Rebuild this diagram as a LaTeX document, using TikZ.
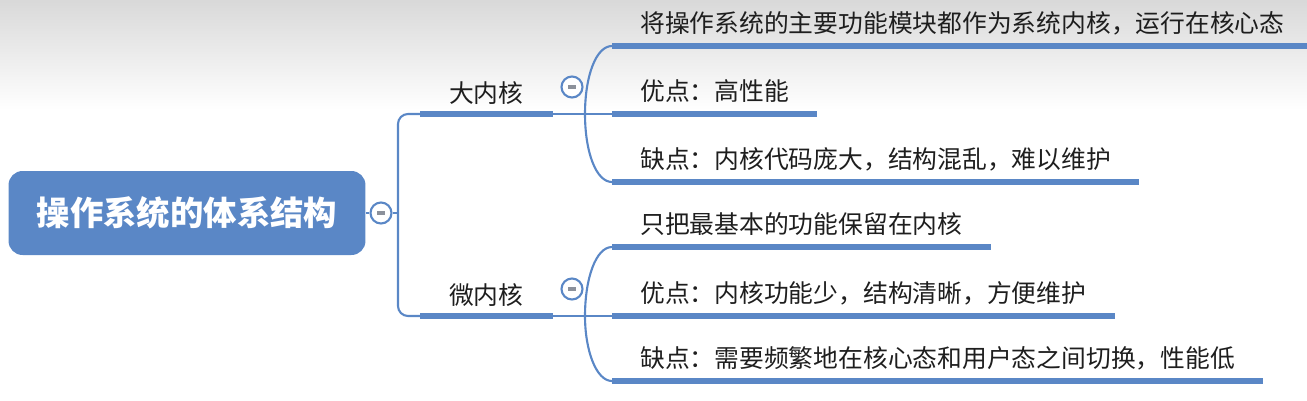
\documentclass[tikz,border=0pt]{standalone}
\usepackage{fontspec}
\setmainfont{Noto Sans CJK SC}
\usepackage{tikz}
\definecolor{MapBlue}{HTML}{5A87C6}
\definecolor{FoldGray}{HTML}{8C919B}
\definecolor{InkGray}{HTML}{1E1E1E}
\tikzset{
  rootbox/.style={rounded corners=0.28cm,fill=MapBlue,text=white,
    font=\fontsize{19}{21}\selectfont\bfseries,minimum width=7.14cm,minimum height=1.68cm},
  topicbox/.style={anchor=south west,minimum width=2.64cm,inner xsep=0pt,inner ysep=0.13cm,
    text height=0.4cm,text depth=0.1cm,text=InkGray,font=\fontsize{14.1}{16}\selectfont},
  leafbox/.style={anchor=south west,inner xsep=0.56cm,inner ysep=0.17cm,
    text height=0.4cm,text depth=0.1cm,text=InkGray,font=\fontsize{14.1}{16}\selectfont},
  fold/.style={circle,draw=MapBlue,line width=1.2pt,fill=white,minimum size=0.42cm,inner sep=0pt,
    path picture={\draw[FoldGray,line width=1.8pt]
      ([xshift=-0.08cm]path picture bounding box.center) -- ([xshift=0.08cm]path picture bounding box.center);}},
  link/.style={MapBlue,line width=1.2pt},
  uline/.style={MapBlue,line width=3.2pt}
}
\begin{document}
\begin{tikzpicture}[x=0.02cm,y=-0.02cm]
  \useasboundingbox (0,0) rectangle (1307,400);
  \fill[top color=gray!30,bottom color=white] (0,0) rectangle (1307,110);
  % root
  \node[rootbox] (root) at (187,213) {操作系统的体系结构};
  \node[fold] (rootfold) at (381,213) {};
  \coordinate (trunk) at (398,213);
  % two kernel kinds
  \node[topicbox] (big) at (420,114) {大内核};
  \node[topicbox] (micro) at (420,316) {微内核};
  \node[fold] (bigfold) at (572,87) {};
  \node[fold] (microfold) at (572,289) {};
  % details
  \node[leafbox] (big1) at (612,46) {将操作系统的主要功能模块都作为系统内核，运行在核心态};
  \node[leafbox] (big2) at (612,114) {优点：高性能};
  \node[leafbox] (big3) at (612,182) {缺点：内核代码庞大，结构混乱，难以维护};
  \node[leafbox] (micro1) at (612,247) {只把最基本的功能保留在内核};
  \node[leafbox] (micro2) at (612,316) {优点：内核功能少，结构清晰，方便维护};
  \node[leafbox] (micro3) at (612,381) {缺点：需要频繁地在核心态和用户态之间切换，性能低};
  \coordinate (bigfork) at (585,114);
  \coordinate (microfork) at (585,316);
  % connectors
  \draw[link] (root.east) -- (rootfold.west);
  \draw[link] (rootfold.east) -- (trunk);
  \draw[link,rounded corners=0.2cm] (big.south west) -| (trunk) |- (micro.south west);
  \draw[link] (big.south east) -- (big2.south west);
  \draw[link] (micro.south east) -- (micro2.south west);
  \draw[link] (big1.south west) .. controls (596,46) and (bigfork|-0,76) .. (bigfork)
    .. controls (bigfork|-0,152) and (596,182) .. (big3.south west);
  \draw[link] (micro1.south west) .. controls (596,247) and (microfork|-0,278) .. (microfork)
    .. controls (microfork|-0,350) and (596,381) .. (micro3.south west);
  \foreach \n in {big,micro,big1,big2,big3,micro1,micro2,micro3}
    \draw[uline] (\n.south west) -- (\n.south east);
\end{tikzpicture}
\end{document}
